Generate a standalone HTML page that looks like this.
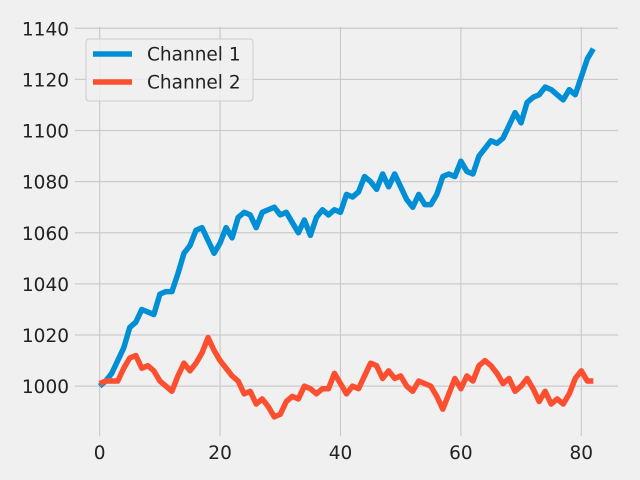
<!DOCTYPE html>
<html><head><meta charset="utf-8"><style>
body{margin:0;background:#f0f0f0;}
svg{display:block;font-family:"DejaVu Sans","Liberation Sans",sans-serif;}
</style></head><body>
<svg id="chart" width="640" height="480" viewBox="0 0 640 480">
<rect width="640" height="480" fill="#f0f0f0"/>
<g id="grid"></g>
<g id="ticks"></g>
<g id="series"></g>
<g id="legend">
<rect x="86" y="39" width="167" height="62" rx="3" fill="#f0f0f0" fill-opacity="0.8" stroke="#cccccc" stroke-width="1"/>
<line x1="93" y1="54" x2="132" y2="54" stroke="#008fd5" stroke-width="5.5"/>
<text x="147" y="60.5" font-size="18.5" fill="#222">Channel 1</text>
<line x1="93" y1="82" x2="132" y2="82" stroke="#fc4f30" stroke-width="5.5"/>
<text x="147" y="88.5" font-size="18.5" fill="#222">Channel 2</text>
</g>
</svg>
<script>
const channel1 = [1000,1002,1005,1010,1015,1023,1025,1030,1029,1028,1036,1037,1037,1044,1052,1055,1061,1062,1057,1052,1056,1062,1058,1066,1068,1067,1062,1068,1069,1070,1067,1068,1064,1060,1065,1059,1066,1069,1067,1069,1068,1075,1074,1076,1082,1080,1077,1083,1078,1083,1078,1073,1070,1075,1071,1071,1075,1082,1083,1082,1088,1084,1083,1090,1093,1096,1095,1097,1102,1107,1103,1111,1113,1114,1117,1116,1114,1112,1116,1114,1121,1128,1132];
const channel2 = [1001,1002,1002,1002,1007,1011,1012,1007,1008,1006,1002,1000,998,1004,1009,1006,1009,1013,1019,1014,1010,1007,1004,1002,997,998,993,995,992,988,989,994,996,995,1000,999,997,999,999,1005,1001,997,1000,999,1004,1009,1008,1003,1006,1003,1004,1000,998,1002,1001,1000,996,991,997,1003,999,1004,1002,1008,1010,1008,1005,1001,1003,998,1000,1003,999,994,998,993,995,993,997,1003,1006,1002,1002];
const xTicks = [0,20,40,60,80];
const yTicks = [1000,1020,1040,1060,1080,1100,1120,1140];

const NS="http://www.w3.org/2000/svg";
const X0=75, X1=618, Y0=436, Y1=27;
const xMin=-4.1, xMax=86.1, yMin=980.5, yMax=1140.5;
function sx(v){return X0+(v-xMin)/(xMax-xMin)*(X1-X0);}
function sy(v){return Y0-(v-yMin)/(yMax-yMin)*(Y0-Y1);}
function mk(tag,attrs,parent){const e=document.createElementNS(NS,tag);for(const k in attrs)e.setAttribute(k,attrs[k]);parent.appendChild(e);return e;}
const grid=document.getElementById('grid'), ticks=document.getElementById('ticks'), series=document.getElementById('series');
xTicks.forEach(t=>{
  const l=mk('line',{x1:sx(t),x2:sx(t),y1:Y1,y2:Y0,stroke:'#cbcbcb','stroke-width':1.2},grid);
  
  
  const tx=mk('text',{x:sx(t),y:459,'text-anchor':'middle','font-size':18.5,fill:'#222'},ticks);
  tx.textContent=t;
  
  
});
yTicks.forEach(t=>{
  const l=mk('line',{x1:X0,x2:X1,y1:sy(t),y2:sy(t),stroke:'#cbcbcb','stroke-width':1.2},grid);
  
  
  const tx=mk('text',{x:69,y:sy(t)+7,'text-anchor':'end','font-size':18.5,fill:'#222'},ticks);
  tx.textContent=t;
  
  
});
function draw(data,color,name){
  const pts=data.map((v,i)=>sx(i).toFixed(2)+','+sy(v).toFixed(2)).join(' ');
  const p=mk('polyline',{points:pts,fill:'none',stroke:color,'stroke-width':5.5,'stroke-linejoin':'round','stroke-linecap':'butt'},series);
  
  
}
draw(channel1,'#008fd5','channel-1-line');
draw(channel2,'#fc4f30','channel-2-line');
</script>
</body></html>
